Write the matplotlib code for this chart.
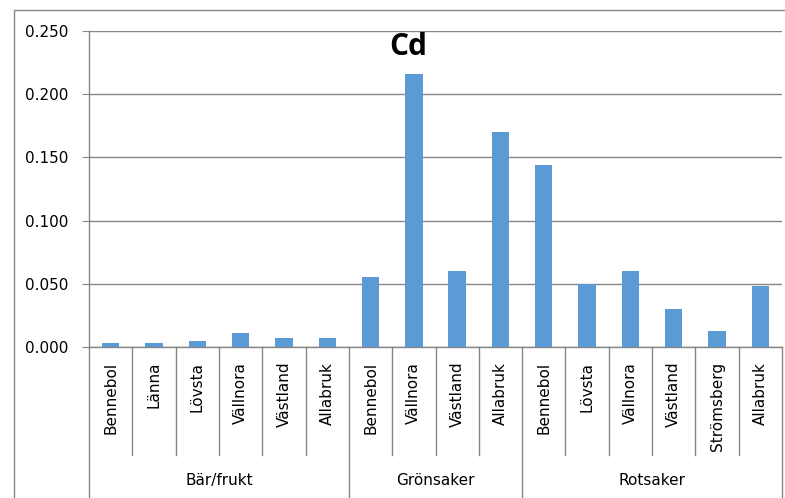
import numpy as np
import matplotlib
matplotlib.use("Agg")
from matplotlib import pyplot as plt
from matplotlib.patches import Rectangle

# Cd concentrations per site, grouped by crop type
groups = ["Bär/frukt", "Grönsaker", "Rotsaker"]
sites_bar = ["Bennebol", "Länna", "Lövsta", "Vällnora", "Västland", "Allabruk"]
sites_gron = ["Bennebol", "Vällnora", "Västland", "Allabruk"]
sites_rot = ["Bennebol", "Lövsta", "Vällnora", "Västland", "Strömsberg", "Allabruk"]
cd_bar = [0.003, 0.003, 0.005, 0.011, 0.007, 0.007]
cd_gron = [0.055, 0.216, 0.060, 0.170]
cd_rot = [0.144, 0.050, 0.060, 0.030, 0.013, 0.048]
yticks = [0.0, 0.05, 0.10, 0.15, 0.20, 0.25]

labels = sites_bar + sites_gron + sites_rot
values = cd_bar + cd_gron + cd_rot
sizes = [len(sites_bar), len(sites_gron), len(sites_rot)]
x = np.arange(len(labels))

W, H = 785, 498
fig = plt.figure(figsize=(W / 100, H / 100), dpi=100)
ax = fig.add_axes([89 / W, 1 - 347 / H, (782 - 89) / W, (347 - 31) / H])

grey = "#868686"
ax.bar(x, values, width=0.4, color="#5B9BD5", zorder=3)
ax.set_xlim(-0.5, len(labels) - 0.5)
ax.set_ylim(0, 0.25)
ax.set_yticks(yticks)
ax.set_yticklabels([f"{v:.3f}" for v in yticks], fontsize=11, family="DejaVu Sans")
ax.yaxis.grid(True, color=grey, linewidth=1.0, zorder=0)
ax.tick_params(axis="y", length=5, color=grey, pad=9.5)
ax.set_xticks([])
for side in ["top", "right"]:
    ax.spines[side].set_visible(False)
for side in ["left", "bottom"]:
    ax.spines[side].set_color(grey)
    ax.spines[side].set_linewidth(1.0)

trans = ax.get_xaxis_transform()
# separators between sites and longer ones between groups
edges = np.cumsum([0] + sizes) - 0.5
for b in np.arange(-0.5, len(labels)):
    lo = -0.48 if np.any(np.isclose(edges, b)) else -0.342
    ax.plot([b, b], [0, lo], transform=trans, color=grey, lw=1.0, clip_on=False)

for xi, lab in zip(x, labels):
    ax.text(xi, -0.047, lab, transform=trans, rotation=90, ha="center", va="top",
            fontsize=11, family="DejaVu Sans")

for g, a, b in zip(groups, edges[:-1], edges[1:]):
    ax.text((a + b) / 2, -0.421, g, transform=trans, ha="center", va="center",
            fontsize=11, family="DejaVu Sans")

fig.text(408 / W, 1 - 47 / H, "Cd", ha="center", va="center", fontsize=21.5,
         fontweight="bold", family="Open Sans")

# outer chart frame
fig.patches.append(Rectangle((14 / W, -0.1), 1.1, 1.1 - 10 / H, transform=fig.transFigure,
                             fill=False, edgecolor=grey, lw=1.0))

fig.savefig("out.png", dpi=100)
